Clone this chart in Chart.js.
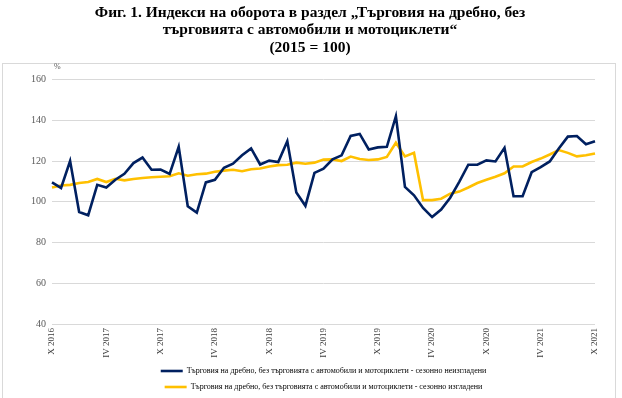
<!DOCTYPE html>
<html lang="bg">
<head>
  <meta charset="UTF-8">
  <title>Фиг. 1. Индекси на оборота</title>
  <script src="https://cdn.jsdelivr.net/npm/chart.js@4.4.1/dist/chart.umd.min.js"></script>
  <style>
    body { margin: 0; background: #fff; }
    #wrap { position: relative; width: 622px; height: 398px; }
    #frame { position: absolute; left: 2px; top: 63px; width: 612px; height: 340px; border: 1px solid #d9d9d9; }
    #myChart { position: absolute; left: 0; top: 0; }
  </style>
</head>
<body>
<div id="wrap">
  <div id="frame"></div>
  <canvas id="myChart" width="622" height="398"></canvas>
</div>

<script>
    // months X.2016 - X.2021
    const categories = [
      'X 2016','XI 2016','XII 2016',
      'I 2017','II 2017','III 2017','IV 2017','V 2017','VI 2017','VII 2017','VIII 2017','IX 2017','X 2017','XI 2017','XII 2017',
      'I 2018','II 2018','III 2018','IV 2018','V 2018','VI 2018','VII 2018','VIII 2018','IX 2018','X 2018','XI 2018','XII 2018',
      'I 2019','II 2019','III 2019','IV 2019','V 2019','VI 2019','VII 2019','VIII 2019','IX 2019','X 2019','XI 2019','XII 2019',
      'I 2020','II 2020','III 2020','IV 2020','V 2020','VI 2020','VII 2020','VIII 2020','IX 2020','X 2020','XI 2020','XII 2020',
      'I 2021','II 2021','III 2021','IV 2021','V 2021','VI 2021','VII 2021','VIII 2021','IX 2021','X 2021'
    ];

    // seasonally unadjusted
    const unadjusted = [
      109.5,106.8,120.0,
      95.0,93.4,108.3,107.0,110.8,113.7,119.0,121.7,115.7,115.8,113.7,127.0,
      97.8,94.7,109.5,110.8,116.7,118.7,122.8,126.2,118.3,120.2,119.5,129.7,
      104.5,98.0,114.2,116.2,120.8,122.8,132.3,133.3,125.7,126.7,127.0,142.0,
      107.3,103.2,97.0,92.5,96.2,102.0,109.8,118.2,118.2,120.3,119.8,126.5,
      102.7,102.7,114.5,117.0,119.8,126.2,132.0,132.3,128.2,129.7
    ];

    // seasonally adjusted
    const adjusted = [
      107.0,108.0,108.3,
      109.2,109.7,111.2,109.7,111.3,110.5,111.2,111.7,112.0,112.3,112.5,114.0,
      112.8,113.5,113.8,114.7,115.3,115.7,115.0,116.0,116.3,117.3,118.0,118.2,
      119.2,118.7,119.2,120.7,120.8,120.0,122.2,121.0,120.5,120.8,122.0,129.0,
      122.3,124.0,100.8,100.8,101.5,104.0,105.0,107.0,109.2,110.8,112.3,114.0,
      117.3,117.3,119.5,121.2,123.2,125.4,124.0,122.3,122.8,123.7
    ];

    const yTicks = { min: 40, max: 160, step: 20 };

    const titleLines = [
      'Фиг. 1. Индекси на оборота в раздел „Търговия на дребно, без',
      'търговията с автомобили и мотоциклети“',
      '(2015 = 100)'
    ];

    const seriesNames = [
      'Търговия на дребно, без търговията с автомобили и мотоциклети - сезонно неизгладени',
      'Търговия на дребно, без търговията с автомобили и мотоциклети - сезонно изгладени'
    ];

    const serif = "'Liberation Serif', 'Times New Roman', serif";

    // small "%" above the value axis
    const unit_label = {
      id: 'unit_label',
      afterDraw: (chart) => {
        const ctx = chart.ctx;
        const area = chart.chartArea;
        ctx.save();
        ctx.font = '8px ' + serif;
        ctx.fillStyle = '#595959';
        ctx.textAlign = 'left';
        ctx.textBaseline = 'middle';
        ctx.fillText('%', area.left + 2, area.top - 13);
        ctx.restore();
      }
    };

    var ctx = document.getElementById('myChart');
    var myChart = new Chart(ctx, {
        type: 'line',
        plugins: [unit_label],
        data: {
          labels: categories,
          datasets: [{
            label: seriesNames[0],
            data: unadjusted,
            borderColor: '#002060',
            backgroundColor: '#002060',
            borderWidth: 2.6,
            pointRadius: 0,
            tension: 0
          }, {
            label: seriesNames[1],
            data: adjusted,
            borderColor: '#FFC000',
            backgroundColor: '#FFC000',
            borderWidth: 2.6,
            pointRadius: 0,
            tension: 0
          }]
        },
        options: {
          responsive: false,
          animation: false,
          layout: {
            padding: { left: 25, right: 27, top: 0, bottom: -3 }
          },
          scales: {
            x: {
              offset: false,
              grid: { display: false, drawTicks: false },
              border: { display: false },
              afterFit: (scale) => { scale.height = 35; },
              ticks: {
                autoSkip: false,
                maxRotation: 90,
                minRotation: 90,
                padding: 4,
                color: '#404040',
                font: { family: serif, size: 9 },
                callback: function(value, index) {
                  return index % 6 === 0 ? categories[index] : '';
                }
              }
            },
            y: {
              min: yTicks.min,
              max: yTicks.max,
              grid: { color: '#d9d9d9', lineWidth: 1, drawTicks: false },
              border: { display: false },
              ticks: {
                stepSize: yTicks.step,
                padding: 6,
                color: '#595959',
                font: { family: serif, size: 10 }
              }
            }
          },
          plugins: {
            title: {
              display: true,
              text: titleLines,
              color: '#000',
              font: { family: serif, size: 15.5, weight: 'bold', lineHeight: 1.13 },
              padding: { top: 4, bottom: 23 }
            },
            legend: {
              display: true,
              position: 'bottom',
              fullSize: false,
              labels: {
                usePointStyle: true,
                pointStyle: 'line',
                pointStyleWidth: 22,
                boxHeight: 8,
                padding: 8,
                color: '#000',
                font: { family: serif, size: 8 }
              }
            },
            tooltip: { enabled: false }
          }
        }
      });
</script>
</body>
</html>
